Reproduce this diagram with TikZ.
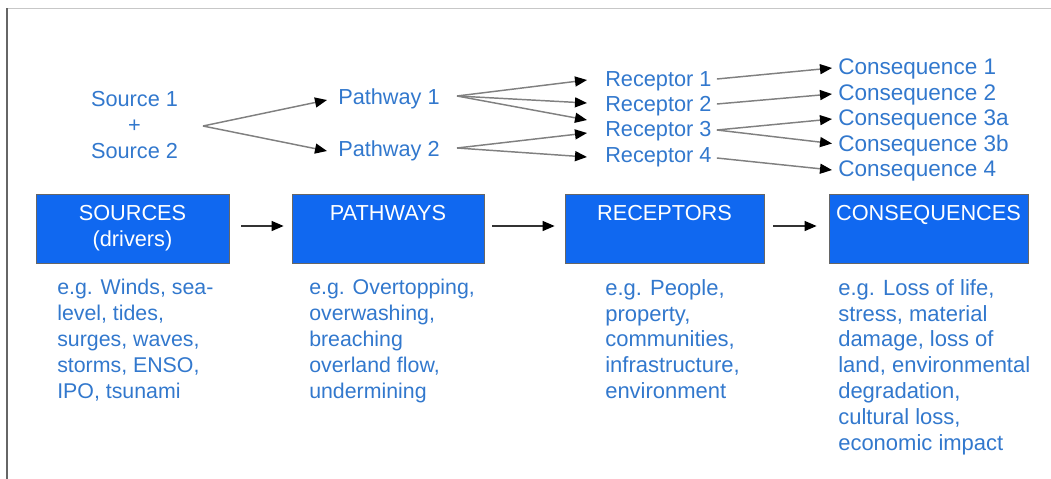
\documentclass[tikz,border=0pt]{standalone}
\usepackage{fontspec}
\setmainfont{Liberation Sans}
\usetikzlibrary{arrows.meta,calc}
\definecolor{txtblue}{RGB}{50,120,205}
\definecolor{boxblue}{RGB}{16,104,240}
\definecolor{linegray}{RGB}{128,128,128}
\begin{document}
\begin{tikzpicture}[x=0.75pt,y=-0.75pt,
  lbl/.style={inner sep=0pt, text=txtblue, font=\fontsize{16.3}{19.5}\selectfont},
  biglbl/.style={lbl, font=\fontsize{16.9}{19.5}\selectfont},
  desc/.style={inner sep=0pt, text=txtblue, align=left, anchor=north west, font=\fontsize{16}{19.4}\selectfont},
  bigdesc/.style={desc, font=\fontsize{16.5}{19.4}\selectfont},
  stagebox/.style={draw=black!60, line width=0.6pt, fill=boxblue, text=white, minimum height=51.75pt, align=center, font=\fontsize{16.3}{19.5}\selectfont, inner sep=0pt},
  fan/.style={draw=linegray, line width=1.1pt, -{Triangle[length=9pt,width=7.5pt,color=black]}},
  flow/.style={draw=black!80, line width=1pt, -{Triangle[length=9pt,width=7.5pt,color=black]}}
]
\useasboundingbox (0,0) rectangle (1051,479);
\draw[black!22, line width=0.75pt] (7,8) -- (1051,8);
\draw[black!60, line width=1.1pt] (7,8) -- (7,479);

% top row
\node[lbl, align=center] (src) at (134.5,125) {Source 1\\+\\Source 2};
\coordinate (fork) at (203,126);
\node[lbl, anchor=west] (p1) at (338,99) {Pathway 1};
\node[lbl, anchor=west] (p2) at (338,151) {Pathway 2};
\node[lbl, anchor=west] (r1) at (605,81) {Receptor 1};
\node[lbl, anchor=west] (r2) at (605,106) {Receptor 2};
\node[lbl, anchor=west] (r3) at (605,131) {Receptor 3};
\node[lbl, anchor=west] (r4) at (605,157) {Receptor 4};
\node[biglbl, anchor=west] (c1) at (838,69) {Consequence 1};
\node[biglbl, anchor=west] (c2) at (838,95) {Consequence 2};
\node[biglbl, anchor=west] (c3a) at (838,120) {Consequence 3a};
\node[biglbl, anchor=west] (c3b) at (838,145.5) {Consequence 3b};
\node[biglbl, anchor=west] (c4) at (838,171) {Consequence 4};

\draw[fan] (fork) -- ($(p1.west)+(-11,1)$);
\draw[fan] (fork) -- ($(p2.west)+(-11,0)$);
\draw[fan] ($(p1.east)+(17,-3)$) -- ($(r1.west)+(-18,-1)$);
\draw[fan] ($(p1.east)+(17,-3)$) -- ($(r2.west)+(-18,-3)$);
\draw[fan] ($(p1.east)+(17,-3)$) -- ($(r3.west)+(-18,-11)$);
\draw[fan] ($(p2.east)+(17,-3)$) -- ($(r3.west)+(-18,2)$);
\draw[fan] ($(p2.east)+(17,-3)$) -- ($(r4.west)+(-18,0)$);
\draw[fan] ($(r1.east)+(5,-2)$) -- ($(c1.west)+(-6,-1)$);
\draw[fan] ($(r2.east)+(5,-2)$) -- ($(c2.west)+(-6,-1)$);
\draw[fan] ($(r3.east)+(5,-1)$) -- ($(c3a.west)+(-6,-1)$);
\draw[fan] ($(r3.east)+(5,-1)$) -- ($(c3b.west)+(-6,-2)$);
\draw[fan] ($(r4.east)+(5,1)$) -- ($(c4.west)+(-6,-1)$);

% stage boxes
\node[stagebox, minimum width=144.75pt] (b1) at (132.5,228.5) {SOURCES\\(drivers)};
\node[stagebox, minimum width=144pt] (b2) at (388,228.5) {PATHWAYS\\\phantom{(drivers)}};
\node[stagebox, minimum width=149.25pt] (b3) at (664.5,228.5) {RECEPTORS\\\phantom{(drivers)}};
\node[stagebox, minimum width=149.25pt] (b4) at (928.5,228.5) {CONSEQUENCES\\\phantom{(drivers)}};

\draw[flow] ($(b1.east)+(12,-2.5)$) -- ($(b2.west)+(-8,-2.5)$);
\draw[flow] ($(b2.east)+(8,-2.5)$) -- ($(b3.west)+(-10,-2.5)$);
\draw[flow] ($(b3.east)+(9,-2.5)$) -- ($(b4.west)+(-12,-2.5)$);

% descriptions
\node[desc] (d1) at (57,279) {e.g. Winds, sea-\\level, tides,\\surges, waves,\\storms, ENSO,\\IPO, tsunami};
\node[desc] (d2) at (309,279) {e.g. Overtopping,\\overwashing,\\breaching\\overland flow,\\undermining};
\node[bigdesc] (d3) at (605,279) {e.g. People,\\property,\\communities,\\infrastructure,\\environment};
\node[bigdesc] (d4) at (838,279) {e.g. Loss of life,\\stress, material\\damage, loss of\\land, environmental\\degradation,\\cultural loss,\\economic impact};
\end{tikzpicture}
\end{document}
